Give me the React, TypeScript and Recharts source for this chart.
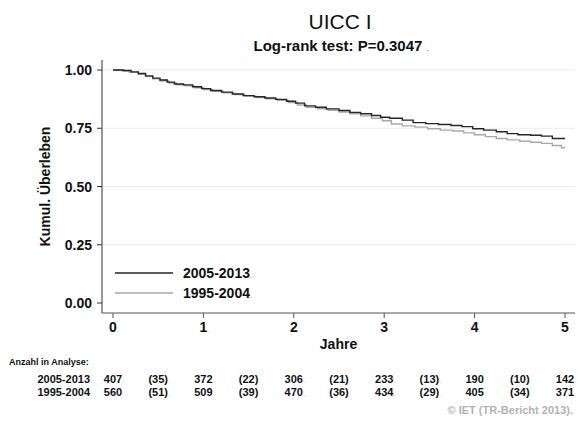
import React from 'react';
import { LineChart, Line, XAxis, YAxis, CartesianGrid, Legend } from 'recharts';

const FONT = '"Liberation Sans", Arial, Helvetica, sans-serif';

const TITLE = 'UICC I';
const SUBTITLE = 'Log-rank test: P=0.3047';
const X_LABEL = 'Jahre';
const Y_LABEL = 'Kumul. Überleben';
const TABLE_TITLE = 'Anzahl in Analyse:';
const CREDIT = '© IET (TR-Bericht 2013)';

const SERIES_NAMES = ['2005-2013', '1995-2004'];
const SERIES_COLORS = ['#262626', '#a9a9a9'];

// 2005-2013
const T_RECENT = [0, 0.12, 0.2, 0.28, 0.36, 0.44, 0.52, 0.6, 0.68, 0.78, 0.88, 0.98, 1.08, 1.2, 1.32, 1.44, 1.56, 1.68, 1.8, 1.92, 2.02, 2.12, 2.24, 2.36, 2.5, 2.62, 2.74, 2.86, 2.96, 3.06, 3.2, 3.32, 3.46, 3.6, 3.74, 3.86, 3.98, 4.1, 4.24, 4.36, 4.48, 4.62, 4.74, 4.86, 5.0];
const S_RECENT = [1.0, 0.998, 0.992, 0.985, 0.975, 0.965, 0.957, 0.948, 0.94, 0.936, 0.928, 0.92, 0.912, 0.905, 0.897, 0.89, 0.885, 0.88, 0.874, 0.866, 0.858, 0.846, 0.84, 0.833, 0.826, 0.818, 0.812, 0.805, 0.797, 0.793, 0.785, 0.774, 0.77, 0.766, 0.762, 0.757, 0.748, 0.742, 0.735, 0.727, 0.722, 0.72, 0.716, 0.706, 0.703];

// 1995-2004
const T_OLD = [0, 0.1, 0.18, 0.28, 0.36, 0.44, 0.52, 0.62, 0.7, 0.8, 0.9, 1.0, 1.1, 1.22, 1.34, 1.46, 1.58, 1.7, 1.82, 1.94, 2.04, 2.14, 2.26, 2.38, 2.5, 2.62, 2.74, 2.86, 2.98, 3.08, 3.2, 3.34, 3.48, 3.62, 3.76, 3.88, 4.0, 4.12, 4.24, 4.36, 4.5, 4.62, 4.74, 4.86, 4.96, 5.0];
const S_OLD = [1.0, 0.996, 0.99, 0.982, 0.972, 0.962, 0.953, 0.944, 0.936, 0.932, 0.924, 0.916, 0.909, 0.902, 0.895, 0.888, 0.882, 0.876, 0.87, 0.86, 0.85, 0.84, 0.834, 0.827, 0.82, 0.812, 0.803, 0.793, 0.782, 0.768, 0.76, 0.755, 0.748, 0.742, 0.738, 0.73, 0.722, 0.714, 0.706, 0.7, 0.694, 0.69, 0.685, 0.676, 0.666, 0.664];

const Y_TICKS = [0, 0.25, 0.5, 0.75, 1];
const GRID_VALUES = [0.25, 0.5, 0.75, 1];
// tick positions: integers are year ticks, half years carry the censored counts
const TABLE_POS = [0, 0.5, 1, 1.5, 2, 2.5, 3, 3.5, 4, 4.5, 5];
const AT_RISK_RECENT = ['407', '(35)', '372', '(22)', '306', '(21)', '233', '(13)', '190', '(10)', '142'];
const AT_RISK_OLD = ['560', '(51)', '509', '(39)', '470', '(36)', '434', '(29)', '405', '(34)', '371'];

const recentData = T_RECENT.map((t, i) => ({ t, s: S_RECENT[i] }));
const oldData = T_OLD.map((t, i) => ({ t, s: S_OLD[i] }));

const TICK_SIZE = 5;
const TICK_MARGIN = 2;
const ROW_FONT = 11;

const Period = ({ x, y, size = 6 }: any) => (
  <text x={x} y={y} fontSize={size} fill="#9a9a9a" fontFamily={FONT}>.</text>
);

const YTick = (props: any) => {
  const { x, y, payload } = props;
  return (
    <g>
      <text x={x} y={y + 5} textAnchor="end" fontFamily={FONT} fontWeight={700} fontSize={14} fill="#111">
        {Number(payload.value).toFixed(2)}
      </text>
      <Period x={x} y={y + 5} />
    </g>
  );
};

const XTick = (props: any) => {
  const { x, y, payload, index } = props;
  const axisY = y - TICK_SIZE - TICK_MARGIN;
  const v = Number(payload.value);
  const isYear = Number.isInteger(v);
  const row1 = axisY + 70;
  const row2 = axisY + 83;
  return (
    <g>
      {isYear ? (
        <g>
          <line x1={x} x2={x} y1={axisY} y2={axisY + TICK_SIZE} stroke="#555" strokeWidth={1} />
          <text x={x} y={axisY + 19} textAnchor="middle" fontFamily={FONT} fontWeight={700} fontSize={14} fill="#111">
            {v}
          </text>
          <Period x={x + 4} y={axisY + 19} />
        </g>
      ) : null}
      {index === 0 ? (
        <g>
          <text x={x - 104} y={axisY + 52} fontFamily={FONT} fontWeight={700} fontSize={9} fill="#111">
            {TABLE_TITLE}
          </text>
          <text x={x - 23} y={row1} textAnchor="end" fontFamily={FONT} fontWeight={700} fontSize={ROW_FONT} fill="#111">
            {SERIES_NAMES[0]}
          </text>
          <Period x={x - 23} y={row1} size={5} />
          <text x={x - 23} y={row2} textAnchor="end" fontFamily={FONT} fontWeight={700} fontSize={ROW_FONT} fill="#111">
            {SERIES_NAMES[1]}
          </text>
          <Period x={x - 23} y={row2} size={5} />
        </g>
      ) : null}
      <text x={x} y={row1} textAnchor="middle" fontFamily={FONT} fontWeight={700} fontSize={ROW_FONT} fill="#111">
        {AT_RISK_RECENT[index]}
      </text>
      <Period x={x + 10} y={row1} size={5} />
      <text x={x} y={row2} textAnchor="middle" fontFamily={FONT} fontWeight={700} fontSize={ROW_FONT} fill="#111">
        {AT_RISK_OLD[index]}
      </text>
      <Period x={x + 10} y={row2} size={5} />
      {index === TABLE_POS.length - 1 ? (
        <text x={x + 8} y={axisY + 101} textAnchor="end" fontFamily={FONT} fontWeight={700} fontSize={11} fill="#b3b3b3">
          {CREDIT}.
        </text>
      ) : null}
    </g>
  );
};

const LegendContent = () => (
  <div style={{ fontFamily: FONT, fontWeight: 700, fontSize: 14, color: '#111' }}>
    {SERIES_NAMES.map((n, i) => (
      <div key={n} style={{ display: 'flex', alignItems: 'center', height: 20 }}>
        <svg width={58} height={4} style={{ display: 'block' }}>
          <line x1={0} x2={58} y1={2} y2={2} stroke={SERIES_COLORS[i]} strokeWidth={1.3} />
        </svg>
        <span style={{ marginLeft: 10 }}>
          {n}
          <span style={{ fontSize: 6, color: '#999' }}>.</span>
        </span>
      </div>
    ))}
  </div>
);

const XLabel = (props: any) => {
  const vb = props.viewBox || {};
  const cx = vb.x + vb.width / 2;
  const yy = vb.y + 36;
  return (
    <g>
      <text x={cx} y={yy} textAnchor="middle" fontFamily={FONT} fontWeight={700} fontSize={14} fill="#111">
        {X_LABEL}
      </text>
      <Period x={cx + 19} y={yy} />
    </g>
  );
};

export default function App() {
  return (
    <div style={{ position: 'absolute', left: 0, top: 0, width: 578, height: 421, background: '#fff', fontFamily: FONT }}>
      <div style={{ position: 'absolute', left: 241, top: 10, width: 200, textAlign: 'center', fontSize: 21, color: '#111', lineHeight: '24px' }}>
        {TITLE}<span style={{ fontSize: 7, color: '#999' }}>.</span>
      </div>
      <div style={{ position: 'absolute', left: 141, top: 37, width: 400, textAlign: 'center', fontSize: 15, fontWeight: 700, color: '#111', lineHeight: '18px' }}>
        {SUBTITLE} <span style={{ fontSize: 7, color: '#999' }}>.</span>
      </div>
      <LineChart
        width={578}
        height={421}
        margin={{ top: 60, right: 3, left: 2, bottom: 8 }}
        style={{ position: 'absolute', left: 0, top: 0 }}
      >
        <CartesianGrid horizontal vertical={false} horizontalValues={GRID_VALUES} stroke="#e6edf1" strokeWidth={1} />
        <XAxis
          xAxisId="main"
          type="number"
          dataKey="t"
          domain={[0, 5]}
          ticks={TABLE_POS}
          interval={0}
          allowDataOverflow
          padding={{ left: 11, right: 10 }}
          height={100}
          tickSize={TICK_SIZE}
          tickMargin={TICK_MARGIN}
          tickLine={false}
          stroke="#555"
          tick={<XTick />}
          label={<XLabel />}
        />
        <YAxis
          type="number"
          domain={[0, 1]}
          ticks={Y_TICKS}
          interval={0}
          width={100}
          padding={{ top: 10, bottom: 10 }}
          tickSize={5}
          tickMargin={5}
          stroke="#333"
          tick={<YTick />}
          label={{
            value: Y_LABEL,
            angle: -90,
            position: 'center',
            dx: -7,
            style: { fontFamily: FONT, fontWeight: 700, fontSize: 14, fill: '#111' },
          }}
        />
        <Legend
          layout="vertical"
          align="center"
          verticalAlign="middle"
          wrapperStyle={{ position: 'absolute', left: 115, top: 263, width: 170 }}
          content={<LegendContent />}
        />
        <Line
          xAxisId="main"
          data={oldData}
          dataKey="s"
          name={SERIES_NAMES[1]}
          type="stepAfter"
          stroke={SERIES_COLORS[1]}
          strokeWidth={1.4}
          dot={false}
          activeDot={false}
          isAnimationActive={false}
        />
        <Line
          xAxisId="main"
          data={recentData}
          dataKey="s"
          name={SERIES_NAMES[0]}
          type="stepAfter"
          stroke={SERIES_COLORS[0]}
          strokeWidth={1.4}
          dot={false}
          activeDot={false}
          isAnimationActive={false}
        />
      </LineChart>
    </div>
  );
}
